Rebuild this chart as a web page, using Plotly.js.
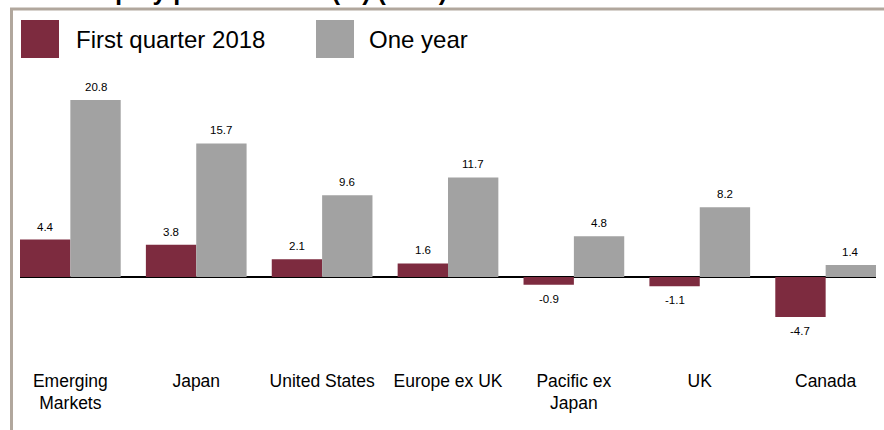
<!DOCTYPE html>
<html>
<head>
<meta charset="utf-8">
<script src="https://cdn.plot.ly/plotly-3.0.1.min.js"></script>
<style>html,body{margin:0;padding:0;background:#fff;}#chart{width:884px;height:430px;}</style>
</head>
<body>
<div id="chart"></div>
<script>
var categories = ["Emerging<br>Markets", "Japan", "United States", "Europe ex UK", "Pacific ex<br>Japan", "UK", "Canada"];
var firstQuarter2018 = [4.4, 3.8, 2.1, 1.6, -0.9, -1.1, -4.7];
var oneYear = [20.8, 15.7, 9.6, 11.7, 4.8, 8.2, 1.4];
var seriesNames = ["First quarter 2018", "One year"];
var titleText = "Equity performance (%) (USD)";

var W = 884, H = 430;
function px(x) { return x / W; }
function py(y) { return 1 - y / H; }
var FONT = "'Liberation Sans', Arial, sans-serif";
var MAROON = "#7d2b3f", GREY = "#a2a2a2", FRAME = "#b1a79d";

var idx = categories.map(function (c, i) { return i; });

var traces = [
  { type: "bar", name: seriesNames[0], x: idx, y: firstQuarter2018, marker: { color: MAROON }, hoverinfo: "y" },
  { type: "bar", name: seriesNames[1], x: idx, y: oneYear, marker: { color: GREY }, hoverinfo: "y" }
];

var annotations = [];
[firstQuarter2018, oneYear].forEach(function (series, s) {
  series.forEach(function (v, i) {
    annotations.push({
      x: i + (s === 0 ? -0.2 : 0.2), y: v, xref: "x", yref: "y",
      text: v.toFixed(1), showarrow: false,
      yanchor: v >= 0 ? "bottom" : "top", yshift: v >= 0 ? 5 : -6,
      font: { family: FONT, size: 11.5, color: "#000" }
    });
  });
});
// legend text
annotations.push({ x: px(74), y: py(39), xref: "paper", yref: "paper", xanchor: "left", yanchor: "middle",
  text: seriesNames[0], showarrow: false, font: { family: FONT, size: 24, color: "#000" } });
annotations.push({ x: px(367), y: py(39), xref: "paper", yref: "paper", xanchor: "left", yanchor: "middle",
  text: seriesNames[1], showarrow: false, font: { family: FONT, size: 24, color: "#000" } });
// cut-off title (only its lowest part shows, as in the reference)
annotations.push({ x: px(88), y: 1, xref: "paper", yref: "paper", xanchor: "left", yanchor: "bottom", yshift: -7,
  text: "<b>" + titleText + "</b>", showarrow: false, font: { family: FONT, size: 25, color: "#000" } });

var shapes = [
  { type: "line", xref: "paper", yref: "paper", x0: px(10), x1: 1, y0: py(9), y1: py(9), line: { color: FRAME, width: 3 } },
  { type: "line", xref: "paper", yref: "paper", x0: px(11.5), x1: px(11.5), y0: 0, y1: py(8), line: { color: FRAME, width: 3 } },
  { type: "rect", xref: "paper", yref: "paper", x0: px(21), x1: px(59), y0: py(58), y1: py(20), line: { width: 0 }, fillcolor: MAROON },
  { type: "rect", xref: "paper", yref: "paper", x0: px(316), x1: px(354), y0: py(58), y1: py(20), line: { width: 0 }, fillcolor: GREY }
];

var plotTop = 60, plotBottom = 368, zeroY = 277, pxPerUnit = 8.51;
var yMax = (zeroY - plotTop) / pxPerUnit, yMin = -(plotBottom - zeroY) / pxPerUnit;

var layout = {
  width: W, height: H,
  margin: { l: 0, r: 0, t: 0, b: 0 },
  paper_bgcolor: "#fff", plot_bgcolor: "rgba(0,0,0,0)",
  showlegend: false,
  barmode: "group", bargap: 0.2, bargroupgap: 0,
  xaxis: {
    domain: [px(20), px(876)], range: [-0.4, 6.4],
    tickmode: "array", tickvals: idx, ticktext: categories,
    showgrid: false, zeroline: false, showline: false, ticks: "",
    tickfont: { family: FONT, size: 17.5, color: "#000" }, automargin: false, fixedrange: true
  },
  yaxis: {
    domain: [py(plotBottom), py(plotTop)], range: [yMin, yMax],
    showgrid: false, showticklabels: false, ticks: "", showline: false,
    zeroline: true, zerolinecolor: "#000", zerolinewidth: 2, automargin: false, fixedrange: true
  },
  annotations: annotations, shapes: shapes,
  font: { family: FONT }
};

Plotly.newPlot("chart", traces, layout, { displayModeBar: false, staticPlot: true });
</script>
</body>
</html>
